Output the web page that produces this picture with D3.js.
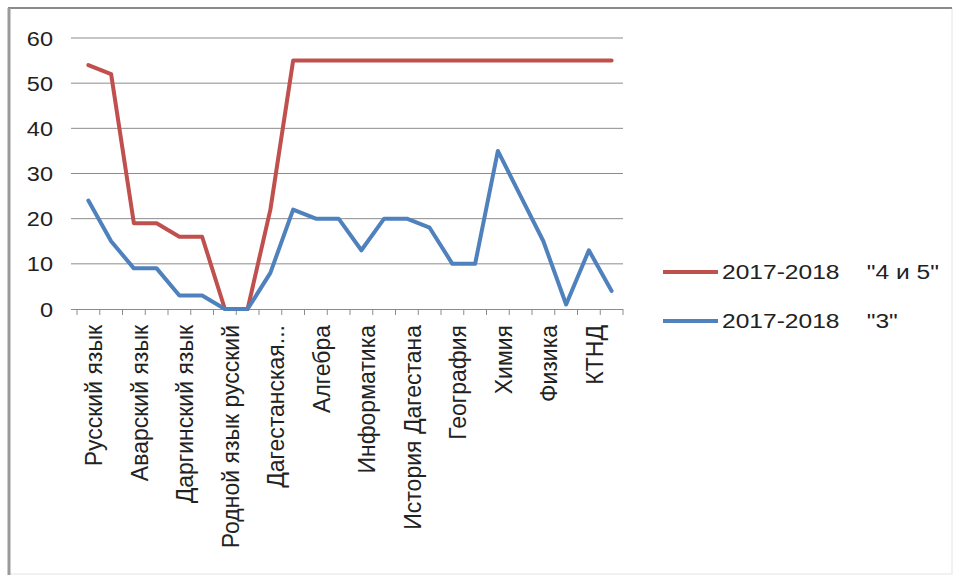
<!DOCTYPE html>
<html>
<head>
<meta charset="utf-8">
<script src="https://cdn.jsdelivr.net/npm/d3@7"></script>
<style>
  html, body { margin: 0; padding: 0; background: #fff; }
  svg { display: block; }
  text { font-family: "Liberation Sans", Arial, sans-serif; fill: #222; }
</style>
</head>
<body>
<svg id="chart" width="959" height="580"></svg>
<script>
// ---- data ----
const categories = [
  "Русский язык", "Литература", "Аварский язык", "Аварская литература",
  "Даргинский язык", "Даргинская литература", "Родной язык русский", "Родная литература",
  "Дагестанская литература", "Английский язык", "Алгебра", "Геометрия",
  "Информатика", "История", "История Дагестана", "Обществознание",
  "География", "Биология", "Химия", "Искусство",
  "Физика", "Технология", "КТНД", "Физкультура"
];
const tickLabels = [
  "Русский язык", "", "Аварский язык", "", "Даргинский язык", "", "Родной язык русский", "",
  "Дагестанская...", "", "Алгебра", "", "Информатика", "", "История Дагестана", "",
  "География", "", "Химия", "", "Физика", "", "КТНД", ""
];
const seriesNames = ['2017-2018    "4 и 5"', '2017-2018    "3"'];
const values45 = [54, 52, 19, 19, 16, 16, 0, 0, 22, 55, 55, 55, 55, 55, 55, 55, 55, 55, 55, 55, 55, 55, 55, 55];
const values3  = [24, 15, 9, 9, 3, 3, 0, 0, 8, 22, 20, 20, 13, 20, 20, 18, 10, 10, 35, 25, 15, 1, 13, 4];
const yTicks = [0, 10, 20, 30, 40, 50, 60];
const colors = ["#C0504D", "#4F81BD"];

// ---- layout ----
const svg = d3.select("#chart");
const plot = { left: 77, right: 623, top: 38, bottom: 309 };

// frame
svg.append("rect").attr("x", 9).attr("y", 8).attr("width", 943).attr("height", 566)
  .attr("fill", "#fff").attr("stroke", "#e4e4e4").attr("stroke-width", 1);
svg.append("line").attr("x1", 8).attr("x2", 952).attr("y1", 8).attr("y2", 8)
  .attr("stroke", "#8a8a8a").attr("stroke-width", 2);
svg.append("line").attr("x1", 9).attr("x2", 9).attr("y1", 8).attr("y2", 575)
  .attr("stroke", "#9a9a9a").attr("stroke-width", 3);

const x = d3.scaleBand().domain(categories).range([plot.left, plot.right]).padding(0);
const y = d3.scaleLinear().domain([0, 60]).range([plot.bottom, plot.top]);
const cx = d => x(d) + x.bandwidth() / 2;

// gridlines
svg.append("g").selectAll("line").data(yTicks.filter(t => t > 0)).join("line")
  .attr("x1", plot.left - 6).attr("x2", plot.right)
  .attr("y1", d => y(d)).attr("y2", d => y(d))
  .attr("stroke", "#8c8c8c").attr("stroke-width", 1);

// y axis labels
const yAxis = d3.axisLeft(y).tickValues(yTicks).tickSize(0).tickPadding(0);
const gy = svg.append("g").attr("transform", `translate(${plot.left},0)`).call(yAxis);
gy.select(".domain").remove();
gy.selectAll("text")
  .attr("x", 0).attr("dy", null)
  .attr("dominant-baseline", "central")
  .attr("text-anchor", "end")
  .attr("transform", "translate(-24,0) scale(1.12,1)")
  .style("font-size", "21px").style("font-family", "'Liberation Sans', Arial, sans-serif")
  .attr("fill", "#222");

// x axis
const xAxis = d3.axisBottom(x).tickSize(6).tickFormat((d, i) => tickLabels[i]);
const gx = svg.append("g").attr("transform", `translate(0,${plot.bottom})`).call(xAxis);
gx.select(".domain").attr("d", `M${plot.left - 6},0.5H${plot.right}`).attr("stroke", "#8c8c8c");
gx.selectAll(".tick line").remove();
gx.append("g").selectAll("line").data(d3.range(categories.length + 1)).join("line")
  .attr("x1", i => plot.left + i * x.bandwidth()).attr("x2", i => plot.left + i * x.bandwidth())
  .attr("y1", 0).attr("y2", 6).attr("stroke", "#8c8c8c");
gx.selectAll(".tick text")
  .attr("y", 0).attr("dy", null)
  .attr("transform", "translate(6,16) rotate(-90)")
  .attr("text-anchor", "end")
  .attr("dominant-baseline", "central")
  .style("font-size", "23px").style("font-family", "'Liberation Sans', Arial, sans-serif")
  .attr("fill", "#222");

// lines
const line = d3.line().x((d, i) => cx(categories[i])).y(d => y(d));
[values45, values3].forEach((vals, k) => {
  svg.append("path").datum(vals)
    .attr("d", line)
    .attr("fill", "none")
    .attr("stroke", colors[k])
    .attr("stroke-width", 4)
    .attr("stroke-linejoin", "round")
    .attr("stroke-linecap", "round");
});

// legend
const legendY = [272, 321];
seriesNames.forEach((name, k) => {
  const g = svg.append("g").attr("transform", `translate(663,${legendY[k]})`);
  g.append("line").attr("x1", 0).attr("x2", 55).attr("y1", 0).attr("y2", 0)
    .attr("stroke", colors[k]).attr("stroke-width", 4);
  g.append("text").attr("x", 0).attr("y", 0)
    .attr("transform", "translate(59,0) scale(1.17,1)")
    .attr("dominant-baseline", "central")
    .attr("xml:space", "preserve")
    .style("white-space", "pre")
    .style("font-size", "21px")
    .text(name);
});
</script>
</body>
</html>
